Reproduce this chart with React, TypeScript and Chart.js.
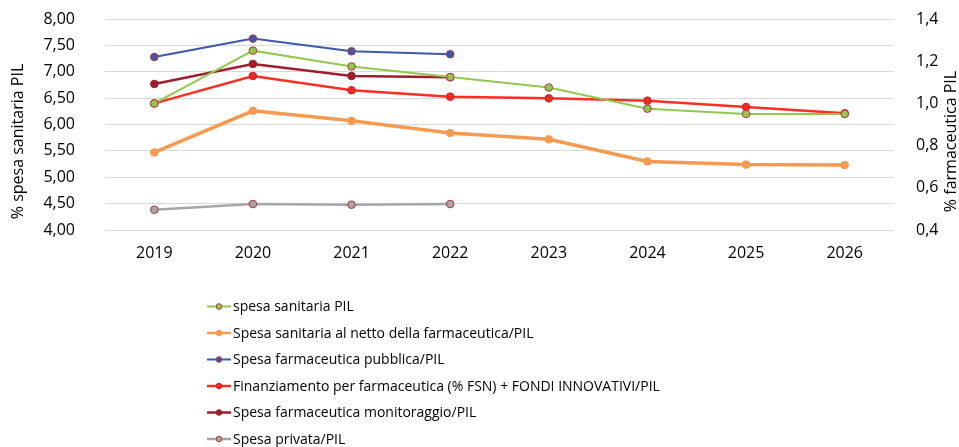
import React, { useEffect, useRef } from 'react';
import { Chart, registerables } from 'chart.js';

Chart.register(...registerables);

const years = ['2019', '2020', '2021', '2022', '2023', '2024', '2025', '2026'];
const spesaSanitaria = [6.4, 7.4, 7.1, 6.9, 6.7, 6.3, 6.2, 6.2];
const spesaNetto = [5.47, 6.26, 6.07, 5.84, 5.72, 5.3, 5.24, 5.23];
const farmPubblica = [1.22, 1.307, 1.247, 1.233, null, null, null, null];
const finanziamento = [1.0, 1.13, 1.062, 1.032, 1.024, 1.013, 0.983, 0.953];
const monitoraggio = [1.092, 1.187, 1.13, 1.124, null, null, null, null];
const privata = [0.496, 0.523, 0.52, 0.523, null, null, null, null];

const labels = [
  'spesa sanitaria PIL',
  'Spesa sanitaria al netto della farmaceutica/PIL',
  'Spesa farmaceutica pubblica/PIL',
  'Finanziamento per farmaceutica (% FSN) + FONDI INNOVATIVI/PIL',
  'Spesa farmaceutica monitoraggio/PIL',
  'Spesa privata/PIL',
];
const leftTitle = '% spesa sanitaria PIL';
const rightTitle = '% farmaceutica PIL';

const FONT = "'Open Sans', sans-serif";
const TXT = '#000000';

const customPlugin = {
  id: 'customDecor',
  afterDraw(chart: any) {
    const ctx = chart.ctx as CanvasRenderingContext2D;
    const area = chart.chartArea;
    const cy = (area.top + area.bottom) / 2 + 17;
    // axis titles
    ctx.save();
    ctx.fillStyle = TXT;
    ctx.font = `16px ${FONT}`;
    ctx.textAlign = 'center';
    ctx.textBaseline = 'middle';
    ctx.translate(18, cy);
    ctx.rotate(-Math.PI / 2);
    ctx.fillText(leftTitle, 0, 0);
    ctx.restore();
    ctx.save();
    ctx.fillStyle = TXT;
    ctx.font = `16px ${FONT}`;
    ctx.textAlign = 'center';
    ctx.textBaseline = 'middle';
    ctx.translate(951, cy);
    ctx.rotate(-Math.PI / 2);
    ctx.fillText(rightTitle, 0, 0);
    ctx.restore();
    // vertical legend
    chart.data.datasets.forEach((ds: any, i: number) => {
      const y = 306.5 + i * 26.5;
      ctx.save();
      ctx.strokeStyle = ds.borderColor;
      ctx.lineWidth = Math.min(ds.borderWidth, 2.5);
      ctx.beginPath();
      ctx.moveTo(207, y);
      ctx.lineTo(231, y);
      ctx.stroke();
      ctx.beginPath();
      ctx.arc(219, y, 2.8, 0, Math.PI * 2);
      ctx.fillStyle = ds.pointBackgroundColor;
      ctx.fill();
      ctx.lineWidth = 1;
      ctx.strokeStyle = ds.pointBorderColor;
      ctx.stroke();
      ctx.fillStyle = TXT;
      ctx.font = `14px ${FONT}`;
      ctx.textAlign = 'left';
      ctx.textBaseline = 'middle';
      ctx.fillText(ds.label, 233, y + 1);
      ctx.restore();
    });
  },
};

export default function App() {
  const ref = useRef<HTMLCanvasElement | null>(null);
  useEffect(() => {
    if (!ref.current) return;
    const mk = (label: string, data: any[], color: string, width: number, pointFill: string, pointBorder: string, axis: string) => ({
      label,
      data,
      borderColor: color,
      backgroundColor: color,
      borderWidth: width,
      pointBackgroundColor: pointFill,
      pointBorderColor: pointBorder,
      pointBorderWidth: 1,
      pointRadius: 3.8,
      yAxisID: axis,
      spanGaps: false,
      tension: 0,
    });
    const chart = new Chart(ref.current, {
      type: 'line',
      data: {
        labels: years,
        datasets: [
          mk(labels[0], spesaSanitaria, '#92C850', 2, '#92C850', '#B8323C', 'y'),
          mk(labels[1], spesaNetto, '#F79A50', 3.5, '#F79A50', '#F79A50', 'y'),
          mk(labels[2], farmPubblica, '#3D58A8', 2, '#3D58A8', '#B8323C', 'y1'),
          mk(labels[3], finanziamento, '#FF2E22', 2.5, '#F02A22', '#C0262A', 'y1'),
          mk(labels[4], monitoraggio, '#A01E2C', 2.5, '#A01E2C', '#A01E2C', 'y1'),
          mk(labels[5], privata, '#A6A6A6', 2.5, '#A6A6A6', '#B8323C', 'y1'),
        ],
      },
      options: {
        animation: false,
        responsive: false,
        layout: { padding: { top: 19, bottom: 177, left: 0, right: 0 } },
        plugins: { legend: { display: false }, tooltip: { enabled: false } },
        scales: {
          x: {
            offset: true,
            grid: { display: false },
            border: { display: false },
            ticks: { color: TXT, font: { family: FONT, size: 16 }, padding: 6 },
            afterFit: (s: any) => { s.height = 40; },
          },
          y: {
            position: 'left',
            min: 4,
            max: 8,
            grid: { color: '#D9D9D9', drawTicks: true, tickLength: 24, tickColor: 'rgba(0,0,0,0)', lineWidth: 1 },
            border: { display: false },
            ticks: {
              stepSize: 0.5,
              color: TXT,
              padding: 6,
              font: { family: FONT, size: 16 },
              callback: (v: any) => Number(v).toFixed(2).replace('.', ','),
            },
            afterFit: (s: any) => { s.width = 105; },
          },
          y1: {
            position: 'right',
            min: 0.4,
            max: 1.4,
            grid: { display: false, drawTicks: true, tickLength: 16, tickColor: 'rgba(0,0,0,0)' },
            border: { display: false },
            ticks: {
              stepSize: 0.2,
              color: TXT,
              padding: 6,
              font: { family: FONT, size: 16 },
              callback: (v: any) => Number(v).toFixed(1).replace('.', ','),
            },
            afterFit: (s: any) => { s.width = 65; },
          },
        },
      },
      plugins: [customPlugin],
    });
    return () => chart.destroy();
  }, []);
  return (
    <div style={{ position: 'fixed', left: 0, top: 0, width: 959, height: 447, background: '#fff' }}>
      <canvas ref={ref} width={959} height={447} style={{ display: 'block' }} />
    </div>
  );
}
